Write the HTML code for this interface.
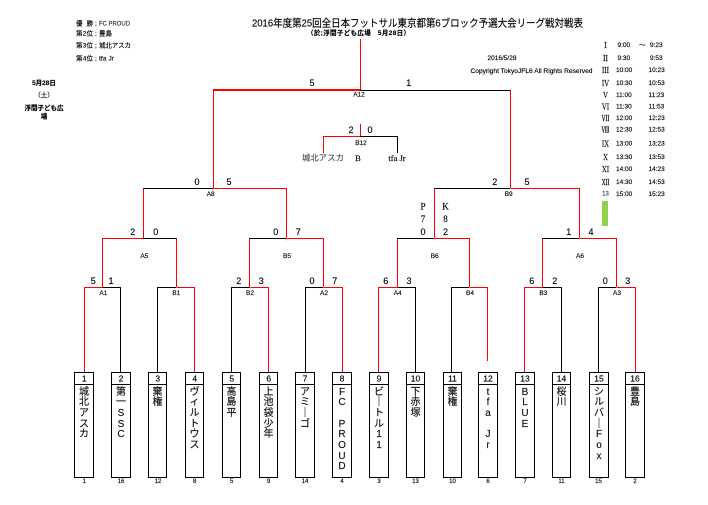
<!DOCTYPE html>
<html lang="ja"><head><meta charset="utf-8"><title>対戦表</title>
<style>
html,body{margin:0;padding:0;background:#fff}
body{width:708px;height:505px;overflow:hidden;position:relative}
svg{position:absolute;left:0;top:0}
text{font-family:"Liberation Sans","Noto Sans CJK JP",sans-serif;fill:#000;dominant-baseline:central;stroke:#000;stroke-width:.15}
.s{font-size:9px;text-anchor:middle}
.l{font-size:6.5px;text-anchor:middle}
.t{font-size:6.5px}
.p{font-size:6.5px}
.n{font-size:8.5px;text-anchor:middle}
.b{font-size:6px;text-anchor:middle}
.r{font-family:"Liberation Serif","Noto Serif CJK SC",serif;font-size:7.5px;text-anchor:middle}
.v{position:absolute;top:387.5px;width:19px;text-align:center;font:10px/10.7px "Liberation Sans","Noto Sans CJK JP",sans-serif;color:#111;-webkit-text-stroke:.15px #111}
</style></head><body>
<svg width="708" height="505" viewBox="0 0 708 505" xmlns="http://www.w3.org/2000/svg">
<g shape-rendering="crispEdges" fill="none" stroke-width="1">
<g stroke="#f00">
<path d="M360.5 39V90"/>
<path d="M213 89.5H360M213 90.5H360" />
<path d="M213.5 90V188M510.5 90V188"/>
<path d="M360.5 124V136.5H323.5V153"/>
<path d="M213.5 188.5H286.5V238M143.5 188V238"/>
<path d="M510.5 188.5H579.5V238M434.5 188V238"/>
<path d="M102.5 287V238.5H143.5M176.5 238V287"/>
<path d="M286.5 238.5H323.5V287M249.5 238V287"/>
<path d="M434.5 238.5H469.5V287M397.5 238V287"/>
<path d="M579.5 238.5H616.5V287M542.5 238V287"/>
<path d="M84.5 372V287.5H102.5"/>
<path d="M176.5 287.5H194.5V372"/>
<path d="M250.5 287.5H268.5V372"/>
<path d="M323.5 287.5H342.5V372"/>
<path d="M378.5 372V287.5H397.5"/>
<path d="M469.5 287.5H487.5V361"/>
<path d="M524.5 372V287.5H542.5"/>
<path d="M616.5 287.5H635.5V372"/>
</g>
<g stroke="#000">
<path d="M360 90.5H510.5"/>
<path d="M360 136.5H397.5V153"/>
<path d="M143.5 188.5H213"/>
<path d="M434.5 188.5H510"/>
<path d="M143 238.5H176.5"/>
<path d="M249.5 238.5H286"/>
<path d="M397.5 238.5H434"/>
<path d="M542.5 238.5H579"/>
<path d="M102 287.5H120.5V372"/>
<path d="M157.5 372V287.5H176"/>
<path d="M231.5 372V287.5H250"/>
<path d="M305.5 372V287.5H323"/>
<path d="M397 287.5H415.5V372"/>
<path d="M451.5 372V287.5H469"/>
<path d="M542 287.5H561.5V372"/>
<path d="M598.5 372V287.5H616"/>
<rect x="74.5" y="372.5" width="19" height="105"/><path d="M74 384.5H94"/>
<rect x="111.5" y="372.5" width="19" height="105"/><path d="M111 384.5H131"/>
<rect x="148.5" y="372.5" width="18" height="105"/><path d="M148 384.5H167"/>
<rect x="185.5" y="372.5" width="18" height="105"/><path d="M185 384.5H204"/>
<rect x="222.5" y="372.5" width="18" height="105"/><path d="M222 384.5H241"/>
<rect x="259.5" y="372.5" width="18" height="105"/><path d="M259 384.5H278"/>
<rect x="295.5" y="372.5" width="19" height="105"/><path d="M295 384.5H315"/>
<rect x="332.5" y="372.5" width="19" height="105"/><path d="M332 384.5H352"/>
<rect x="369.5" y="372.5" width="19" height="105"/><path d="M369 384.5H389"/>
<rect x="406.5" y="372.5" width="18" height="105"/><path d="M406 384.5H425"/>
<rect x="443.5" y="372.5" width="18" height="105"/><path d="M443 384.5H462"/>
<rect x="478.5" y="372.5" width="19" height="105"/><path d="M478 384.5H498"/>
<rect x="515.5" y="372.5" width="19" height="105"/><path d="M515 384.5H535"/>
<rect x="552.5" y="372.5" width="18" height="105"/><path d="M552 384.5H571"/>
<rect x="589.5" y="372.5" width="19" height="105"/><path d="M589 384.5H609"/>
<rect x="625.5" y="372.5" width="19" height="105"/><path d="M625 384.5H645"/>
</g>
<rect x="602" y="201" width="6" height="25" fill="#92d050" stroke="none"/>
</g>

<text x="252" y="23.5" font-size="10.5" textLength="331" lengthAdjust="spacingAndGlyphs">2016年度第25回全日本フットサル東京都第6ブロック予選大会リーグ戦対戦表</text>
<text x="307" y="33.5" font-size="6.5" font-weight="700" textLength="103" lengthAdjust="spacing">（於;浮間子ども広場　5月28日）</text>

<text class="p" x="76" y="24" textLength="17">優 勝</text><text class="p" x="95" y="24">;</text><text class="p" x="99" y="24" textLength="31" lengthAdjust="spacingAndGlyphs" style="fill:#333;stroke:#333">FC PROUD</text>
<text class="p" x="76" y="34" textLength="17">第2位</text><text class="p" x="95" y="34">;</text><text class="p" x="99" y="34">豊島</text>
<text class="p" x="76" y="46" textLength="17">第3位</text><text class="p" x="95" y="46">;</text><text class="p" x="99" y="46" textLength="32">城北アスカ</text>
<text class="p" x="76" y="59" textLength="17">第4位</text><text class="p" x="95" y="59">;</text><text class="p" x="99" y="59" textLength="15">tfa Jr</text>
<text class="p" text-anchor="middle" x="44" y="83.5" font-weight="700">5月28日</text>
<text class="p" text-anchor="middle" x="44" y="95.5">（土）</text>
<text class="p" text-anchor="middle" x="44" y="108.5" font-weight="700">浮間子ども広</text>
<text class="p" text-anchor="middle" x="44" y="117" font-weight="700">場</text>

<text class="t" x="487.5" y="58.5" textLength="29" lengthAdjust="spacingAndGlyphs">2016/5/28</text>
<text class="t" x="470.5" y="71.5" textLength="122" lengthAdjust="spacingAndGlyphs">Copyright TokyoJFL6 All Rights Reserved</text>

<text class="r" x="605.5" y="45.7">Ⅰ</text><text class="t" x="617.5" y="45.7">9:00</text><text class="t" x="639" y="45.7">～</text><text class="t" x="650" y="45.7">9:23</text>
<text class="r" x="605.5" y="58.7">Ⅱ</text><text class="t" x="617.5" y="58.7">9:30</text><text class="t" x="650" y="58.7">9:53</text>
<text class="r" x="605.5" y="70.7">Ⅲ</text><text class="t" x="616" y="70.7">10:00</text><text class="t" x="648.5" y="70.7">10:23</text>
<text class="r" x="605.5" y="83.7">Ⅳ</text><text class="t" x="616" y="83.7">10:30</text><text class="t" x="648.5" y="83.7">10:53</text>
<text class="r" x="605.5" y="95.7">Ⅴ</text><text class="t" x="616" y="95.7">11:00</text><text class="t" x="648.5" y="95.7">11:23</text>
<text class="r" x="605.5" y="107">Ⅵ</text><text class="t" x="616" y="107">11:30</text><text class="t" x="648.5" y="107">11:53</text>
<text class="r" x="605.5" y="118.5">Ⅶ</text><text class="t" x="616" y="118.5">12:00</text><text class="t" x="648.5" y="118.5">12:23</text>
<text class="r" x="605.5" y="130">Ⅷ</text><text class="t" x="616" y="130">12:30</text><text class="t" x="648.5" y="130">12:53</text>
<text class="r" x="605.5" y="144">Ⅸ</text><text class="t" x="616" y="144">13:00</text><text class="t" x="648.5" y="144">13:23</text>
<text class="r" x="605.5" y="157.7">Ⅹ</text><text class="t" x="616" y="157.7">13:30</text><text class="t" x="648.5" y="157.7">13:53</text>
<text class="r" x="605.5" y="169.7">Ⅺ</text><text class="t" x="616" y="169.7">14:00</text><text class="t" x="648.5" y="169.7">14:23</text>
<text class="r" x="605.5" y="182.7">Ⅻ</text><text class="t" x="616" y="182.7">14:30</text><text class="t" x="648.5" y="182.7">14:53</text>
<text class="t" text-anchor="middle" x="605.5" y="194.7" style="font-size:6px;fill:#245;stroke:#245">13</text><text class="t" x="616" y="194.7">15:00</text><text class="t" x="648.5" y="194.7">15:23</text>

<text class="s" x="312" y="83">5</text><text class="s" x="408.7" y="83">1</text><text class="l" x="359" y="95">A12</text>
<text class="s" x="351" y="130">2</text><text class="s" x="370" y="130">0</text><text class="l" x="361" y="143.5">B12</text>
<text x="302" y="158" font-size="8" style="fill:#555;stroke:#555" textLength="42" lengthAdjust="spacingAndGlyphs">城北アスカ</text>
<text class="r" x="358" y="158" style="font-size:8.5px">B</text>
<text class="r" x="397" y="158" style="font-size:8.5px">tfa Jr</text>

<text class="s" x="197" y="182">0</text><text class="s" x="229" y="182">5</text><text class="l" x="210.7" y="194.5">A8</text>
<text class="s" x="494.7" y="182">2</text><text class="s" x="527" y="182">5</text><text class="l" x="508.7" y="194.5">B9</text>

<text class="s" x="132.7" y="232">2</text><text class="s" x="155.7" y="232">0</text><text class="l" x="144.3" y="256.5">A5</text>
<text class="s" x="275.7" y="232">0</text><text class="s" x="298.3" y="232">7</text><text class="l" x="287" y="256.5">B5</text>
<text class="s" x="423" y="232">0</text><text class="s" x="445.5" y="232">2</text><text class="l" x="434.7" y="256.5">B6</text>
<text class="s" x="568.7" y="232">1</text><text class="s" x="591" y="232">4</text><text class="l" x="580" y="256.5">A6</text>
<text class="r" x="423" y="206.7" style="font-size:9px">P</text><text class="r" x="445.5" y="206.7" style="font-size:9px">K</text>
<text class="r" x="423" y="219" style="font-size:9px">7</text><text class="r" x="445.5" y="219" style="font-size:9px">8</text>

<text class="s" x="93.3" y="281">5</text><text class="s" x="111" y="281">1</text><text class="l" x="103.3" y="293.5">A1</text>
<text class="l" x="176.3" y="293.5">B1</text>
<text class="s" x="238.7" y="281">2</text><text class="s" x="261.3" y="281">3</text><text class="l" x="250" y="293.5">B2</text>
<text class="s" x="312" y="281">0</text><text class="s" x="334.7" y="281">7</text><text class="l" x="324" y="293.5">A2</text>
<text class="s" x="385.7" y="281">6</text><text class="s" x="409" y="281">3</text><text class="l" x="397.7" y="293.5">A4</text>
<text class="l" x="470" y="293.5">B4</text>
<text class="s" x="531.7" y="281">6</text><text class="s" x="554.7" y="281">2</text><text class="l" x="543.3" y="293.5">B3</text>
<text class="s" x="605.3" y="281">0</text><text class="s" x="627.7" y="281">3</text><text class="l" x="617" y="293.5">A3</text>

<text class="n" x="84.3" y="378.5">1</text><text class="n" x="121" y="378.5">2</text><text class="n" x="157.7" y="378.5">3</text><text class="n" x="194.7" y="378.5">4</text><text class="n" x="231.7" y="378.5">5</text><text class="n" x="268.7" y="378.5">6</text><text class="n" x="305" y="378.5">7</text><text class="n" x="342" y="378.5">8</text>
<text class="n" x="379" y="378.5">9</text><text class="n" x="415.5" y="378.5">10</text><text class="n" x="452.5" y="378.5">11</text><text class="n" x="488" y="378.5">12</text><text class="n" x="525" y="378.5">13</text><text class="n" x="561.5" y="378.5">14</text><text class="n" x="599" y="378.5">15</text><text class="n" x="635" y="378.5">16</text>

<text class="b" x="84.3" y="482">1</text><text class="b" x="121" y="482">16</text><text class="b" x="158" y="482">12</text><text class="b" x="194.7" y="482">8</text><text class="b" x="231.7" y="482">5</text><text class="b" x="268.7" y="482">9</text><text class="b" x="305" y="482">14</text><text class="b" x="342" y="482">4</text>
<text class="b" x="379" y="482">3</text><text class="b" x="415.5" y="482">13</text><text class="b" x="452.5" y="482">10</text><text class="b" x="488" y="482">6</text><text class="b" x="525" y="482">7</text><text class="b" x="561.5" y="482">11</text><text class="b" x="598.5" y="482">15</text><text class="b" x="635" y="482">2</text>
</svg>
<div class="v" style="left:74.5px">城<br>北<br>ア<br>ス<br>カ</div>
<div class="v" style="left:111.5px">第<br>一<br>S<br>S<br>C</div>
<div class="v" style="left:148px">棄<br>権</div>
<div class="v" style="left:185px">ヴ<br>ィ<br>ル<br>ト<br>ウ<br>ス</div>
<div class="v" style="left:222px">高<br>島<br>平</div>
<div class="v" style="left:259px">上<br>池<br>袋<br>少<br>年</div>
<div class="v" style="left:295.5px">ア<br>ミ<br>｜<br>ゴ</div>
<div class="v" style="left:332.5px">F<br>C<br>&nbsp;<br>P<br>R<br>O<br>U<br>D</div>
<div class="v" style="left:369.5px">ビ<br>｜<br>ト<br>ル<br>1<br>1</div>
<div class="v" style="left:406px">下<br>赤<br>塚</div>
<div class="v" style="left:443px">棄<br>権</div>
<div class="v" style="left:478.5px">t<br>f<br>a<br>&nbsp;<br>J<br>r</div>
<div class="v" style="left:515.5px">B<br>L<br>U<br>E</div>
<div class="v" style="left:552px">桜<br>川</div>
<div class="v" style="left:589.5px">シ<br>ル<br>バ<br>｜<br>F<br>o<br>x</div>
<div class="v" style="left:625.5px">豊<br>島</div>
</body></html>
